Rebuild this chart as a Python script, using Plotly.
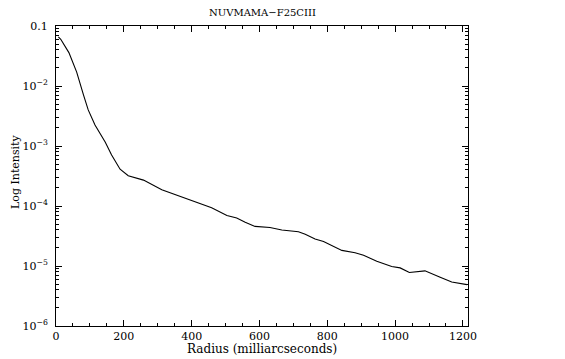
import plotly.graph_objects as go

radius = [7, 14, 38, 61, 81, 95, 115, 145, 164, 189, 213, 258, 312, 361, 415, 459,
          504, 533, 558, 587, 631, 666, 715, 735, 764, 789, 843, 882, 907, 946,
          990, 1015, 1042, 1088, 1133, 1167, 1212]
intensity = [0.066, 0.060, 0.036, 0.017, 0.0071, 0.0040, 0.00224, 0.00117, 0.00071,
             0.00041, 0.00032, 0.00027, 0.000186, 0.000148, 0.000115, 0.0000933,
             0.0000692, 0.000063, 0.0000537, 0.0000457, 0.0000437, 0.0000398,
             0.0000372, 0.0000339, 0.0000282, 0.0000257, 0.0000182, 0.0000166,
             0.0000151, 0.0000120, 0.0000098, 0.0000093, 0.0000078, 0.0000083,
             0.0000065, 0.0000054, 0.0000049]

x_ticks = [0, 200, 400, 600, 800, 1000, 1200]
x_minor = [v for v in range(50, 1215, 50) if v % 200 != 0]
y_ticks = [1e-6, 1e-5, 1e-4, 1e-3, 1e-2, 1e-1]
y_ticktext = ["10<sup>−6</sup>", "10<sup>−5</sup>", "10<sup>−4</sup>",
              "10<sup>−3</sup>", "10<sup>−2</sup>", "0.1"]
y_minor = [m * 10 ** e for e in range(-6, -1) for m in range(2, 10)]

title = "NUVMAMA−F25CIII"
x_title = "Radius (milliarcseconds)"
y_title = "Log Intensity"

FONT = "DejaVu Serif"

fig = go.Figure()
fig.add_trace(go.Scatter(x=radius, y=intensity, mode="lines",
                         line=dict(color="black", width=1.1), showlegend=False))

fig.update_layout(
    width=557, height=351,
    margin=dict(l=48, r=97, t=16, b=33),
    paper_bgcolor="white", plot_bgcolor="white",
    font=dict(family=FONT, size=11, color="black"),
)
fig.update_xaxes(
    range=[0, 1215], showgrid=False, zeroline=False,
    showline=True, linecolor="black", linewidth=1, mirror="ticks",
    tickmode="array", tickvals=x_ticks, ticks="inside", ticklen=6,
    tickcolor="black", tickwidth=1,
    minor=dict(tickmode="array", tickvals=x_minor, ticks="inside", ticklen=3,
               tickcolor="black", tickwidth=1, showgrid=False),
    tickfont=dict(family=FONT, size=11),
)
fig.update_yaxes(
    type="log", range=[-6, -1], showgrid=False, zeroline=False,
    showline=True, linecolor="black", linewidth=1, mirror="ticks",
    tickmode="array", tickvals=y_ticks, ticktext=y_ticktext,
    ticks="inside", ticklen=6, tickcolor="black", tickwidth=1,
    minor=dict(tickmode="array", tickvals=y_minor, ticks="inside", ticklen=3,
               tickcolor="black", tickwidth=1, showgrid=False),
    tickfont=dict(family=FONT, size=11), ticklabelstandoff=5,
)

fig.add_annotation(text=title, x=0.5, y=1, xref="paper", yref="paper",
                   xanchor="center", yanchor="middle",
                   yshift=14, showarrow=False, font=dict(family=FONT, size=10))
fig.add_annotation(text=x_title, x=0.5, y=0, xref="paper", yref="paper",
                   xanchor="center", yanchor="middle",
                   yshift=-23, showarrow=False, font=dict(family=FONT, size=12))
fig.add_annotation(text=y_title, x=0, y=0.5, xref="paper", yref="paper",
                   xanchor="center", yanchor="middle",
                   xshift=-41, yshift=4, textangle=-90, showarrow=False,
                   font=dict(family=FONT, size=11))

fig.write_html("out.html")
